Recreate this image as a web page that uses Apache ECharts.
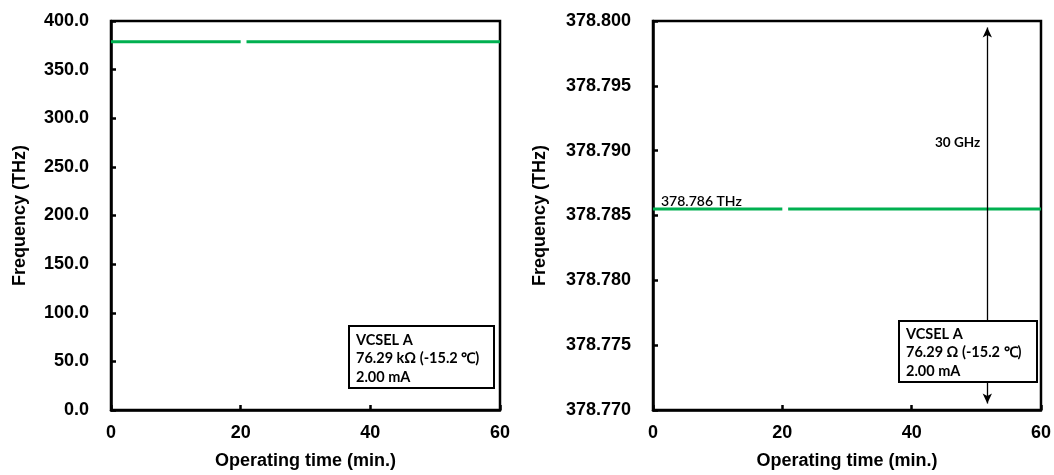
<!DOCTYPE html>
<html>
<head>
<meta charset="utf-8">
<script src="https://cdn.jsdelivr.net/npm/echarts@6/dist/echarts.min.js"></script>
<style>html,body{margin:0;padding:0;background:#fff}#c{width:1054px;height:475px}</style>
</head>
<body>
<div id="c"></div>
<script>
// ---- data ----
const times = [0, 20.0, 20.45, 20.9, 60];
const freqs = [378.7855, 378.7855, null, 378.7855, 378.7855];
const xTicks = [0, 20, 40, 60];
const leftYRange = [0, 400, 50];
const rightYRange = [378.770, 378.800, 0.005];
const arrowTime = 51.7;
const arrowSpan = [378.7705, 378.7995];
const arrowLabel = '30 GHz';
const lineLabel = '378.786 THz';
const leftBoxLines = ['VCSEL A', '76.29 kΩ (-15.2 ℃)', '2.00 mA'];
const rightBoxLines = ['VCSEL A', '76.29 Ω (-15.2 ℃)', '2.00 mA'];
const xTitle = 'Operating time (min.)';
const yTitle = 'Frequency (THz)';

const pts = times.map((t, i) => [t, freqs[i] === null ? null : freqs[i]]);

const tickFont = {fontFamily: 'Liberation Sans, Arial', fontWeight: 'bold', fontSize: 18, color: '#000'};
const axisLine = {show: true, lineStyle: {color: '#000', width: 2.5}};
const axisTick = {show: true, inside: true, length: 5, lineStyle: {color: '#000', width: 2.5}};

function xAxis(gi) {
  return {
    gridIndex: gi, type: 'value', min: 0, max: 60, interval: 20,
    axisLine, axisTick, splitLine: {show: false},
    axisLabel: Object.assign({margin: 14, formatter: v => String(v)}, tickFont),
    name: xTitle, nameLocation: 'middle', nameGap: 42,
    nameTextStyle: {fontFamily: 'Liberation Sans, Arial', fontWeight: 'bold', fontSize: 18, color: '#000'}
  };
}
function yAxis(gi, r, dec, gap) {
  return {
    gridIndex: gi, type: 'value', min: r[0], max: r[1], interval: r[2],
    axisLine, axisTick, splitLine: {show: false},
    axisLabel: Object.assign({margin: 22, formatter: v => v.toFixed(dec)}, tickFont),
    name: yTitle, nameLocation: 'middle', nameGap: gap, nameRotate: 90,
    nameTextStyle: {fontFamily: 'Liberation Sans, Arial', fontWeight: 'bold', fontSize: 18, color: '#000'}
  };
}

const boxFont = 'Lato, "Open Sans", sans-serif';
function boxGraphics(x, y, w, h, lines, tx, ty0, dy) {
  const g = [{type: 'rect', shape: {x, y, width: w, height: h},
    style: {fill: '#fff', stroke: '#000', lineWidth: 2}, z: 100}];
  lines.forEach((s, i) => g.push({type: 'text', x: tx, y: ty0 + i * dy, z: 101,
    style: {text: s, fill: '#000', font: 'bold 14.5px ' + boxFont, textVerticalAlign: 'middle'}}));
  return g;
}

const chart = echarts.init(document.getElementById('c'));
chart.setOption({
  animation: false,
  backgroundColor: '#fff',
  grid: [
    {left: 111, right: 554, top: 21, bottom: 64, show: true, borderColor: '#000', borderWidth: 2.5},
    {left: 653, right: 11, top: 21, bottom: 64, show: true, borderColor: '#000', borderWidth: 2.5}
  ],
  xAxis: [xAxis(0), xAxis(1)],
  yAxis: [yAxis(0, leftYRange, 1, 82), yAxis(1, rightYRange, 3, 104)],
  series: [
    {type: 'line', xAxisIndex: 0, yAxisIndex: 0, data: pts, showSymbol: false, connectNulls: false,
     lineStyle: {color: '#00B050', width: 3}},
    {type: 'line', xAxisIndex: 1, yAxisIndex: 1, data: pts, showSymbol: false, connectNulls: false,
     lineStyle: {color: '#00B050', width: 3},
     markLine: {silent: true, symbol: ['arrow', 'arrow'], symbolSize: [7, 10],
       lineStyle: {color: '#000', width: 1.3, type: 'solid'}, label: {show: false},
       data: [[{coord: [arrowTime, arrowSpan[0]]}, {coord: [arrowTime, arrowSpan[1]]}]]}}
  ],
  graphic: [
    ...boxGraphics(349, 326, 145, 62, leftBoxLines, 356, 340, 18.5),
    ...boxGraphics(899, 321, 138, 61, rightBoxLines, 906, 334, 18.5),
    {type: 'text', x: 935, y: 143, z: 101,
     style: {text: arrowLabel, fill: '#000', font: 'bold 13.5px ' + boxFont, textVerticalAlign: 'middle'}},
    {type: 'text', x: 661, y: 201, z: 101,
     style: {text: lineLabel, fill: '#000', font: '600 14px ' + boxFont, textVerticalAlign: 'middle'}}
  ]
});
</script>
</body>
</html>
